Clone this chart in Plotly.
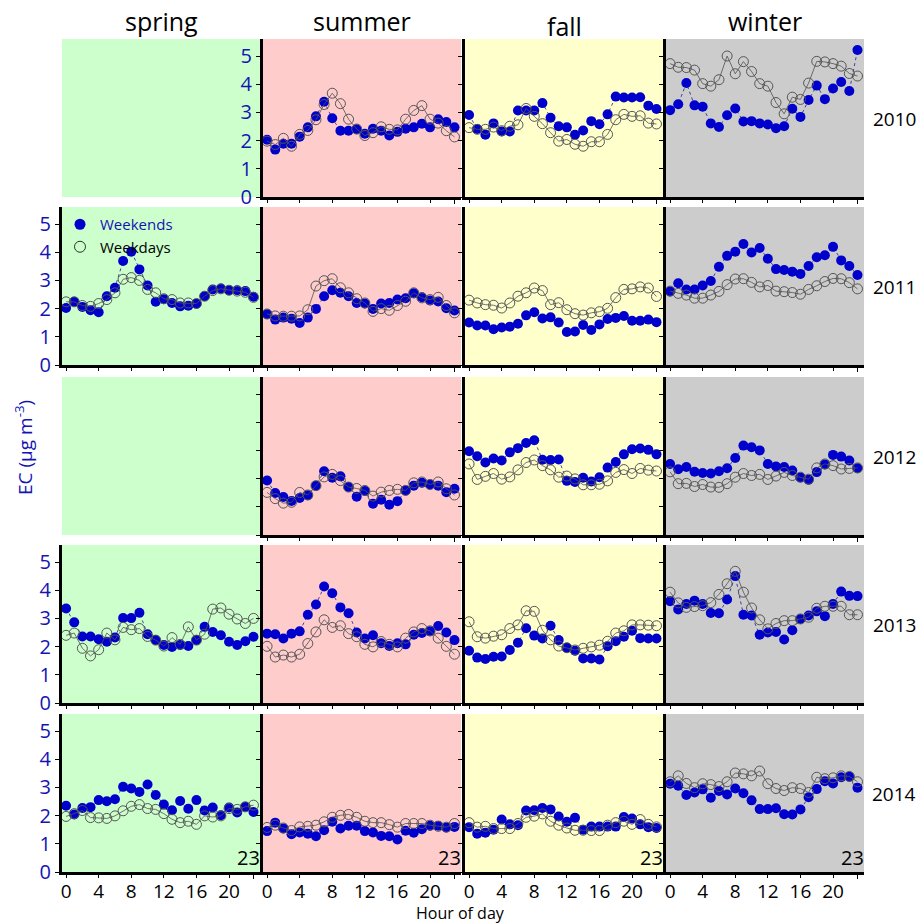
import plotly.graph_objects as go

# Hour of day (0-23)
hours = list(range(24))

seasons = ["spring", "summer", "fall", "winter"]
years = ["2010", "2011", "2012", "2013", "2014"]

# Mean diurnal EC (ug m-3): weekends (we_) and weekdays (wd_)
we_summer_2010 = [2.03, 1.68, 1.89, 1.89, 2.14, 2.47, 2.86, 3.38, 2.79, 2.35, 2.35, 2.40,
                  2.24, 2.42, 2.35, 2.18, 2.31, 2.42, 2.47, 2.60, 2.47, 2.76, 2.66, 2.47]
wd_summer_2010 = [1.98, 1.86, 2.08, 1.80, 2.22, 2.36, 2.74, 3.28, 3.68, 3.31, 2.76, 2.41,
                  2.18, 2.28, 2.49, 2.40, 2.38, 2.76, 3.07, 3.24, 2.76, 2.62, 2.35, 2.13]
we_fall_2010 = [2.91, 2.41, 2.21, 2.61, 2.32, 2.32, 3.07, 3.07, 3.07, 3.33, 2.81, 2.51,
                2.47, 2.21, 2.36, 2.69, 2.58, 2.93, 3.56, 3.53, 3.53, 3.54, 3.24, 3.12]
wd_fall_2010 = [2.46, 2.40, 2.40, 2.48, 2.35, 2.51, 2.56, 3.14, 2.86, 2.60, 2.28, 1.98,
                2.04, 1.87, 1.80, 1.96, 1.96, 2.22, 2.74, 2.93, 2.86, 2.88, 2.62, 2.59]
we_winter_2010 = [3.08, 3.29, 4.04, 3.25, 3.20, 2.61, 2.48, 2.90, 3.14, 2.68, 2.69, 2.61,
                  2.57, 2.44, 2.51, 3.13, 2.84, 3.44, 3.95, 3.47, 3.85, 4.08, 3.76, 5.21]
wd_winter_2010 = [4.73, 4.60, 4.59, 4.50, 4.02, 3.93, 4.16, 5.00, 4.37, 4.80, 4.45, 4.02,
                  3.93, 3.35, 2.95, 3.54, 3.46, 4.04, 4.81, 4.79, 4.73, 4.64, 4.38, 4.29]

we_spring_2011 = [2.02, 2.24, 2.06, 1.94, 1.87, 2.44, 2.74, 3.69, 4.02, 3.39, 2.82, 2.24,
                  2.33, 2.20, 2.08, 2.10, 2.17, 2.44, 2.68, 2.71, 2.65, 2.65, 2.62, 2.42]
wd_spring_2011 = [2.24, 2.24, 2.11, 2.08, 2.18, 2.32, 2.56, 3.04, 3.10, 3.00, 2.68, 2.56,
                  2.35, 2.32, 2.20, 2.20, 2.18, 2.44, 2.64, 2.70, 2.65, 2.62, 2.58, 2.40]
we_summer_2011 = [1.80, 1.61, 1.68, 1.64, 1.49, 1.68, 1.99, 2.44, 2.65, 2.56, 2.44, 2.20,
                  2.18, 1.99, 2.18, 2.20, 2.32, 2.37, 2.54, 2.40, 2.29, 2.25, 2.01, 1.93]
wd_summer_2011 = [1.81, 1.74, 1.73, 1.73, 1.74, 1.96, 2.80, 2.99, 3.06, 2.74, 2.56, 2.35,
                  2.20, 1.90, 2.00, 1.94, 2.11, 2.26, 2.56, 2.38, 2.32, 2.40, 2.11, 1.85]
we_fall_2011 = [1.51, 1.40, 1.40, 1.27, 1.33, 1.36, 1.46, 1.76, 1.87, 1.65, 1.69, 1.51,
                1.17, 1.19, 1.42, 1.24, 1.44, 1.63, 1.67, 1.74, 1.57, 1.57, 1.61, 1.52]
wd_fall_2011 = [2.30, 2.20, 2.14, 2.12, 2.02, 2.20, 2.44, 2.56, 2.73, 2.64, 2.14, 2.21,
                1.96, 1.82, 1.77, 1.85, 1.89, 2.01, 2.39, 2.68, 2.70, 2.77, 2.73, 2.43]
we_winter_2011 = [2.61, 2.90, 2.68, 2.68, 2.82, 2.98, 3.48, 3.87, 4.02, 4.29, 3.99, 4.15,
                  3.77, 3.40, 3.37, 3.31, 3.23, 3.51, 3.82, 3.89, 4.19, 3.71, 3.51, 3.19]
wd_winter_2011 = [2.62, 2.54, 2.48, 2.37, 2.37, 2.48, 2.61, 2.85, 3.05, 3.06, 2.93, 2.77,
                  2.82, 2.62, 2.60, 2.57, 2.51, 2.68, 2.81, 2.96, 3.07, 3.06, 2.92, 2.70]

we_summer_2012 = [1.93, 1.49, 1.35, 1.21, 1.31, 1.41, 1.75, 2.26, 2.03, 2.08, 1.70, 1.36,
                  1.56, 1.11, 1.25, 1.07, 1.20, 1.58, 1.75, 1.85, 1.79, 1.75, 1.52, 1.64]
wd_summer_2012 = [1.51, 1.29, 1.13, 1.16, 1.51, 1.42, 1.75, 2.06, 2.15, 1.93, 1.70, 1.65,
                  1.58, 1.38, 1.52, 1.58, 1.62, 1.58, 1.85, 1.88, 1.79, 1.88, 1.64, 1.42]
we_fall_2012 = [2.97, 2.79, 2.57, 2.71, 2.64, 2.93, 3.08, 3.26, 3.36, 2.67, 2.66, 2.68,
                1.92, 1.88, 2.03, 1.90, 2.05, 2.39, 2.59, 2.86, 3.04, 3.07, 3.02, 2.86]
wd_fall_2012 = [2.52, 1.97, 2.08, 2.18, 1.98, 2.06, 2.31, 2.57, 2.66, 2.46, 2.31, 2.05,
                2.09, 1.99, 1.78, 1.78, 1.80, 1.92, 2.22, 2.32, 2.18, 2.36, 2.30, 2.27]
we_winter_2012 = [2.52, 2.33, 2.41, 2.24, 2.20, 2.18, 2.26, 2.37, 2.73, 3.17, 3.11, 3.00,
                  2.52, 2.43, 2.41, 2.29, 2.04, 1.96, 2.23, 2.50, 2.84, 2.78, 2.64, 2.37]
wd_winter_2012 = [2.24, 1.82, 1.83, 1.72, 1.79, 1.70, 1.69, 1.82, 2.05, 2.18, 2.11, 2.15,
                  1.97, 2.09, 2.22, 2.11, 2.05, 1.98, 2.38, 2.52, 2.46, 2.34, 2.36, 2.38]

we_spring_2013 = [3.35, 2.86, 2.36, 2.36, 2.26, 2.17, 2.32, 3.01, 3.01, 3.20, 2.44, 2.23,
                  2.06, 1.99, 2.06, 2.02, 2.23, 2.70, 2.52, 2.40, 2.17, 2.06, 2.19, 2.35]
wd_spring_2013 = [2.40, 2.48, 1.94, 1.67, 1.89, 2.48, 2.24, 2.68, 2.60, 2.64, 2.36, 2.23,
                  2.02, 2.32, 2.08, 2.70, 2.23, 2.44, 3.33, 3.37, 3.15, 2.98, 2.82, 3.00]
we_summer_2013 = [2.46, 2.44, 2.29, 2.46, 2.54, 3.13, 3.49, 4.13, 3.89, 3.39, 3.18, 2.50,
                  2.29, 2.40, 2.12, 2.02, 2.12, 2.08, 2.42, 2.48, 2.54, 2.73, 2.50, 2.23]
wd_summer_2013 = [2.01, 1.63, 1.70, 1.63, 1.73, 2.11, 2.52, 2.95, 2.68, 2.74, 2.46, 2.35,
                  2.08, 1.99, 2.18, 2.08, 1.99, 2.30, 2.52, 2.64, 2.56, 2.30, 2.01, 1.73]
we_fall_2013 = [1.85, 1.61, 1.56, 1.64, 1.65, 1.88, 2.14, 2.65, 2.39, 2.29, 2.74, 2.23,
                1.96, 1.85, 1.58, 1.58, 1.54, 2.01, 2.19, 2.35, 2.56, 2.30, 2.29, 2.29]
wd_fall_2013 = [2.88, 2.35, 2.30, 2.37, 2.42, 2.64, 2.77, 3.27, 3.25, 2.58, 2.24, 2.02,
                1.96, 1.88, 1.94, 1.99, 2.05, 2.19, 2.48, 2.56, 2.77, 2.77, 2.76, 2.74]
we_winter_2013 = [3.61, 3.32, 3.51, 3.63, 3.51, 3.19, 3.18, 3.67, 4.50, 3.13, 3.10, 2.42,
                  2.50, 2.52, 2.25, 2.58, 2.98, 3.10, 3.25, 3.08, 3.51, 3.95, 3.80, 3.79]
wd_winter_2013 = [3.93, 3.55, 3.39, 3.42, 3.45, 3.56, 3.85, 4.23, 4.67, 3.93, 3.37, 2.95,
                  2.63, 2.82, 2.92, 2.92, 2.98, 3.04, 3.36, 3.43, 3.43, 3.43, 3.13, 3.13]

we_spring_2014 = [2.35, 2.04, 2.27, 2.30, 2.55, 2.51, 2.58, 3.02, 2.96, 2.84, 3.10, 2.73,
                  2.39, 2.19, 2.52, 2.24, 2.55, 2.18, 2.29, 2.01, 2.29, 2.11, 2.31, 2.13]
wd_spring_2014 = [1.97, 2.07, 2.18, 1.93, 1.92, 1.90, 1.99, 2.17, 2.33, 2.39, 2.25, 2.22,
                  2.07, 1.87, 1.75, 1.80, 1.69, 1.99, 1.95, 1.99, 2.25, 2.22, 2.31, 2.37]
we_summer_2014 = [1.45, 1.75, 1.54, 1.34, 1.40, 1.36, 1.27, 1.48, 1.78, 1.54, 1.64, 1.64,
                  1.45, 1.40, 1.28, 1.27, 1.15, 1.46, 1.39, 1.52, 1.64, 1.64, 1.58, 1.60]
wd_summer_2014 = [1.58, 1.66, 1.56, 1.47, 1.60, 1.62, 1.66, 1.78, 1.94, 2.01, 2.04, 1.94,
                  1.80, 1.75, 1.75, 1.68, 1.59, 1.72, 1.72, 1.72, 1.66, 1.62, 1.59, 1.72]
we_fall_2014 = [1.59, 1.36, 1.39, 1.50, 1.86, 1.69, 1.66, 2.18, 2.19, 2.27, 2.22, 1.97,
                1.78, 1.92, 1.50, 1.61, 1.61, 1.61, 1.61, 1.95, 1.90, 1.69, 1.59, 1.56]
wd_fall_2014 = [1.75, 1.59, 1.62, 1.54, 1.54, 1.54, 1.72, 1.94, 1.98, 2.06, 1.80, 1.66,
                1.56, 1.48, 1.48, 1.47, 1.47, 1.66, 1.75, 1.80, 1.69, 1.86, 1.69, 1.60]
we_winter_2014 = [3.13, 3.06, 2.73, 2.82, 2.93, 2.63, 2.87, 2.75, 2.96, 2.79, 2.54, 2.23,
                  2.23, 2.26, 2.05, 2.04, 2.22, 2.65, 2.94, 3.22, 3.14, 3.36, 3.38, 2.99]
wd_winter_2014 = [3.20, 3.41, 3.14, 2.99, 3.13, 3.10, 3.03, 3.20, 3.51, 3.48, 3.41, 3.58,
                  3.13, 2.96, 2.89, 2.99, 2.96, 2.82, 3.36, 3.31, 3.34, 3.41, 3.39, 3.20]

# Panels with data; (season, year) -> (weekends, weekdays)
panels = {
    ("summer", "2010"): (we_summer_2010, wd_summer_2010),
    ("fall", "2010"): (we_fall_2010, wd_fall_2010),
    ("winter", "2010"): (we_winter_2010, wd_winter_2010),
    ("spring", "2011"): (we_spring_2011, wd_spring_2011),
    ("summer", "2011"): (we_summer_2011, wd_summer_2011),
    ("fall", "2011"): (we_fall_2011, wd_fall_2011),
    ("winter", "2011"): (we_winter_2011, wd_winter_2011),
    ("summer", "2012"): (we_summer_2012, wd_summer_2012),
    ("fall", "2012"): (we_fall_2012, wd_fall_2012),
    ("winter", "2012"): (we_winter_2012, wd_winter_2012),
    ("spring", "2013"): (we_spring_2013, wd_spring_2013),
    ("summer", "2013"): (we_summer_2013, wd_summer_2013),
    ("fall", "2013"): (we_fall_2013, wd_fall_2013),
    ("winter", "2013"): (we_winter_2013, wd_winter_2013),
    ("spring", "2014"): (we_spring_2014, wd_spring_2014),
    ("summer", "2014"): (we_summer_2014, wd_summer_2014),
    ("fall", "2014"): (we_fall_2014, wd_fall_2014),
    ("winter", "2014"): (we_winter_2014, wd_winter_2014),
}

season_bg = {"spring": "#ccffcc", "summer": "#ffcccc", "fall": "#ffffcc", "winter": "#cccccc"}

W, H = 923, 924
col_px = [(62, 260), (263, 461), (465, 663), (666, 864)]
row_zero_px = [197, 365, 535, 703, 872]
Y_MAX = 5.6
PX_PER_UNIT = 28.2

BLUE = "#0000cd"
TICK_BLUE = "#1414b4"
FONT = "Open Sans"

fig = go.Figure()
layout = {}
shapes = []

for r, yr in enumerate(years):
    y_bot = row_zero_px[r]
    y_top = y_bot - Y_MAX * PX_PER_UNIT
    for c, s in enumerate(seasons):
        k = r * 4 + c + 1
        xs = "" if k == 1 else str(k)
        x0, x1 = col_px[c]
        xd = [x0 / W, x1 / W]
        yd = [1 - y_bot / H, 1 - y_top / H]
        shapes.append(dict(type="rect", xref="paper", yref="paper",
                           x0=xd[0], x1=xd[1], y0=yd[0], y1=yd[1],
                           fillcolor=season_bg[s], line_width=0, layer="below"))
        empty_top = (s == "spring" and yr == "2010")
        first_in_row = (c == 0 and not empty_top) or (c == 1 and yr == "2010")
        bottom = (r == len(years) - 1)
        layout["xaxis" + xs] = dict(
            domain=xd, anchor="y" + xs, range=[-0.5, 23.8], automargin=False,
            tickvals=[0, 4, 8, 12, 16, 20],
            minor=dict(tickvals=[23], ticks="outside", ticklen=4, tickcolor="black"),
            showticklabels=bottom, ticks="outside", ticklen=3, tickcolor="black",
            ticklabelstandoff=-3,
            showline=True, linecolor="black", linewidth=3, showgrid=False,
            zeroline=False, fixedrange=True, visible=not empty_top,
            tickfont=dict(size=19, color="black", family=FONT))
        layout["yaxis" + xs] = dict(
            domain=yd, anchor="x" + xs, range=[0, Y_MAX], automargin=False,
            tickvals=[0, 1, 2, 3, 4, 5], showticklabels=first_in_row,
            ticks="outside", ticklen=4, tickcolor="black",
            showline=True, linecolor="black", linewidth=3, showgrid=False,
            zeroline=False, fixedrange=True, visible=not empty_top,
            tickfont=dict(size=20, color=TICK_BLUE, family=FONT))
        if (s, yr) in panels:
            we, wd = panels[(s, yr)]
            fig.add_trace(go.Scatter(
                x=hours, y=we, xaxis="x" + xs, yaxis="y" + xs, mode="lines+markers",
                line=dict(color="#1a1a8c", width=0.8, dash="dot"),
                marker=dict(color=BLUE, size=10, line=dict(width=0)),
                showlegend=False, name="Weekends"))
            fig.add_trace(go.Scatter(
                x=hours, y=wd, xaxis="x" + xs, yaxis="y" + xs, mode="lines+markers",
                line=dict(color="#505050", width=0.8),
                marker=dict(symbol="circle-open", color="#555555", size=10,
                            line=dict(width=1)),
                showlegend=False, name="Weekdays"))

# legend entries (markers only)
fig.add_trace(go.Scatter(x=[None], y=[None], mode="markers", xaxis="x5", yaxis="y5",
                         marker=dict(color=BLUE, size=11),
                         name="<span style='color:#1414b4'>Weekends</span>"))
fig.add_trace(go.Scatter(x=[None], y=[None], mode="markers", xaxis="x5", yaxis="y5",
                         marker=dict(symbol="circle-open", color="#303030", size=11,
                                     line=dict(width=1)),
                         name="Weekdays"))


def label(text, x_px, y_px, size, color="black", **kw):
    return dict(text=text, xref="paper", yref="paper", x=x_px / W, y=1 - y_px / H,
                xanchor=kw.pop("xanchor", "center"), yanchor=kw.pop("yanchor", "middle"),
                showarrow=False, font=dict(size=size, color=color, family=FONT), **kw)


annotations = []
for c, s in enumerate(seasons):
    x0, x1 = col_px[c]
    annotations.append(label(s, (x0 + x1) / 2, 26 if s == "fall" else 21, 25))
    # right-end hour label of the bottom row
    annotations.append(label("23", x1 + 2, row_zero_px[-1] + 1, 20,
                             xanchor="right", yanchor="bottom"))
for r, yr in enumerate(years):
    annotations.append(label(yr, 894, row_zero_px[r] - 78, 19))
annotations.append(label("EC (\u03bcg m<sup>-3</sup>)", 24, 448, 19, TICK_BLUE, textangle=-90))
annotations.append(label("Hour of day", 460, 913, 16))

fig.update_layout(
    width=W, height=H, margin=dict(l=0, r=0, t=0, b=0, autoexpand=False),
    paper_bgcolor="white", plot_bgcolor="rgba(0,0,0,0)",
    shapes=shapes, annotations=annotations,
    legend=dict(x=60 / W, y=1 - 208 / H, xanchor="left", yanchor="top",
                bgcolor="rgba(0,0,0,0)", font=dict(size=15, color="black", family=FONT),
                itemwidth=30, tracegroupgap=0),
    **layout,
)

fig.write_html("out.html")
